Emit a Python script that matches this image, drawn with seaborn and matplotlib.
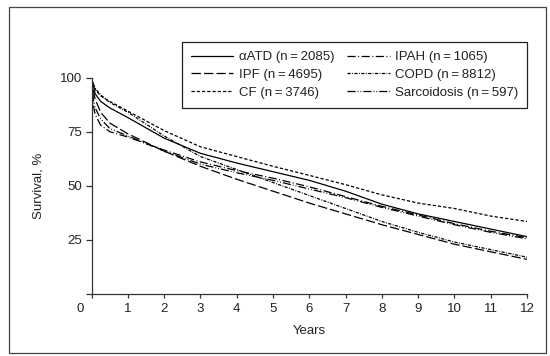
import matplotlib
matplotlib.use("Agg")
import matplotlib.pyplot as plt
import matplotlib.transforms as mtransforms
from matplotlib.patches import Rectangle
import seaborn as sns
import pandas as pd

# ---- data ----
years = [0, 0.05, 0.1, 0.25, 0.5, 1, 2, 3, 4, 5, 6, 7, 8, 9, 10, 11, 12]
surv_aatd = [100, 96, 92.5, 89, 86, 81.5, 72, 65, 60.5, 56.5, 52.5, 47.5, 41.5, 37, 33.5, 30, 26.5]
surv_ipf = [100, 94, 90, 84, 79, 74, 66, 59, 53, 47.5, 42, 37, 32, 27.5, 23, 19.5, 16]
surv_cf = [100, 97, 94.5, 91.5, 89, 84.5, 75.5, 68, 63.5, 59, 54.8, 50.5, 45.8, 42, 39.5, 36, 33.5]
surv_ipah = [100, 87, 83, 78, 75, 72.5, 66.5, 61, 57, 53.5, 49.5, 45, 40.5, 36.5, 32.5, 29, 26]
surv_copd = [100, 97, 95, 92, 88.5, 84, 73, 63.5, 57.5, 51.5, 45.5, 39.5, 33.5, 28.5, 24, 20.5, 17]
surv_sarc = [100, 90, 86, 81, 76.5, 73, 66, 60, 56, 52.5, 48.5, 44.5, 40, 36, 32, 28.5, 25.5]

TS = "\u2009"
labels = [f"\u03b1ATD (n{TS}={TS}2085)", f"IPF (n{TS}={TS}4695)", f"CF (n{TS}={TS}3746)",
          f"IPAH (n{TS}={TS}1065)", f"COPD (n{TS}={TS}8812)", f"Sarcoidosis (n{TS}={TS}597)"]
series = [surv_aatd, surv_ipf, surv_cf, surv_ipah, surv_copd, surv_sarc]

x_ticks = list(range(0, 13))
y_ticks = [0, 25, 50, 75, 100]
y_ticklabels = ["", "25", "50", "75", "100"]

rows = []
for lab, vals in zip(labels, series):
    for t, s in zip(years, vals):
        rows.append({"Years": t, "Survival": s, "Diagnosis": lab})
df = pd.DataFrame(rows)

# ---- style ----
sns.set_theme(style="ticks")
FAM = ["Liberation Sans", "DejaVu Sans"]
plt.rcParams["font.family"] = FAM
plt.rcParams["font.size"] = 9.5

dash_map = {
    labels[0]: "",
    labels[1]: (7.5, 2.5),
    labels[2]: (2.6, 1.6),
    labels[3]: (6.5, 2.0, 0.8, 2.0),
    labels[4]: (2.6, 1.1, 0.7, 1.1),
    labels[5]: (6.5, 1.6, 0.7, 1.6, 0.7, 1.6),
}

fig = plt.figure(figsize=(5.5, 3.56), dpi=100)
ax = fig.add_axes([91.5 / 550, 1 - 294 / 356, 435.5 / 550, 216.5 / 356])

sns.lineplot(data=df, x="Years", y="Survival", style="Diagnosis",
             style_order=labels, dashes=dash_map, color="black",
             linewidth=0.9, ax=ax, legend=True)

ax.set_xlim(0, 12)
ax.set_ylim(0, 100)
ax.set_xticks(x_ticks)
ax.set_xticklabels([str(v) for v in x_ticks])
ax.set_yticks(y_ticks)
ax.set_yticklabels(y_ticklabels)
for sp in ["top", "right"]:
    ax.spines[sp].set_visible(False)
for sp in ["left", "bottom"]:
    ax.spines[sp].set_linewidth(0.9)
    ax.spines[sp].set_color("#333333")
ax.tick_params(axis="x", direction="out", length=2.8, width=0.9, pad=3.5,
               colors="#333333", labelcolor="#222222", labelsize=9.5)
ax.tick_params(axis="y", direction="out", length=4, width=0.9, pad=2.5,
               colors="#333333", labelcolor="#222222", labelsize=9.5)

# shift the "0" x tick label to the left of the y axis, as in the reference
lbl0 = ax.get_xticklabels()[0]
lbl0.set_transform(lbl0.get_transform() +
                   mtransforms.ScaledTranslation(-11 / 100, 0, fig.dpi_scale_trans))

ax.set_xlabel("Years", fontsize=9.5, color="#222222")
ax.set_ylabel("Survival, %", fontsize=9.5, color="#222222")
ax.xaxis.set_label_coords(0.5, -0.143)
ax.yaxis.set_label_coords(-0.108, 0.5)

handles, labs = ax.get_legend_handles_labels()
hmap = dict(zip(labs, handles))
leg = ax.legend([hmap[l] for l in labels], labels, ncol=2, loc="upper right",
                bbox_to_anchor=(1.0, 1.164), borderaxespad=0, frameon=True,
                fancybox=False, edgecolor="#222222", framealpha=1,
                handlelength=3.2, handletextpad=0.4, labelspacing=0.42,
                columnspacing=1.0, borderpad=0.68, fontsize=9.5)
leg.get_frame().set_linewidth(0.9)
for txt in leg.get_texts():
    txt.set_color("#222222")

# outer frame around the whole figure
fig.patches.append(Rectangle((9 / 550, 3 / 356), 537 / 550, 346 / 356,
                             transform=fig.transFigure, fill=False,
                             edgecolor="#444444", linewidth=0.9))

fig.savefig("out.png", dpi=100)
